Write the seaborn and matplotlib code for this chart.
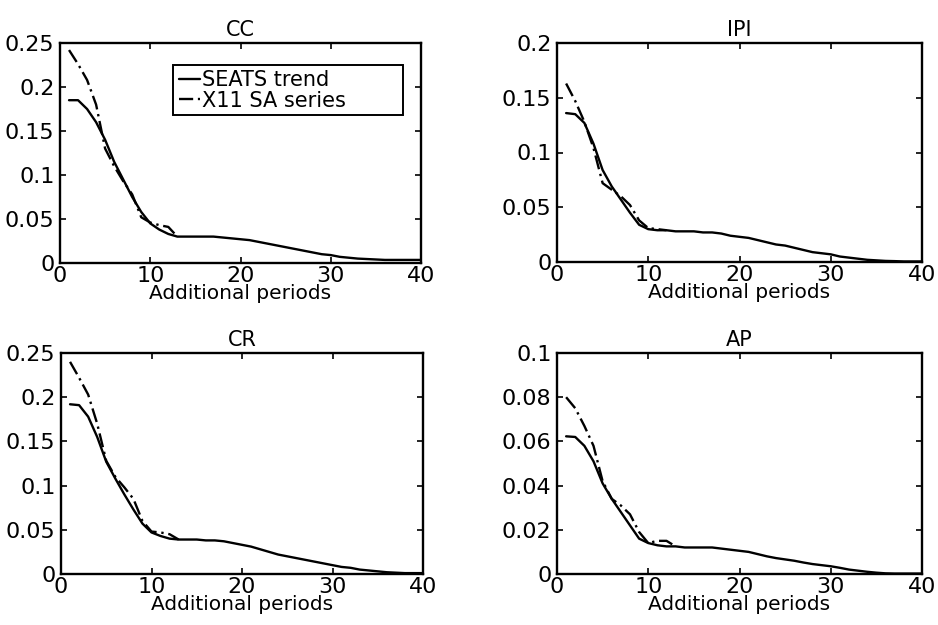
import numpy as np
import pandas as pd
import matplotlib
matplotlib.use("Agg")
import matplotlib.pyplot as plt
from matplotlib.ticker import FuncFormatter
from matplotlib.patches import Rectangle
import seaborn as sns

periods = list(range(1, 41))

cc_seats = [0.185, 0.185, 0.175, 0.160, 0.140, 0.115, 0.095, 0.075, 0.058, 0.045,
            0.038, 0.033, 0.030, 0.030, 0.030, 0.030, 0.030, 0.029, 0.028, 0.027,
            0.026, 0.024, 0.022, 0.020, 0.018, 0.016, 0.014, 0.012, 0.010, 0.009,
            0.007, 0.006, 0.005, 0.0045, 0.004, 0.0035, 0.0035, 0.0035, 0.0035, 0.0035]
cc_x11 = [0.242, 0.226, 0.208, 0.180, 0.130, 0.110, 0.093, 0.078, 0.052, 0.046,
          0.043, 0.041, 0.030]

ipi_seats = [0.136, 0.135, 0.127, 0.108, 0.084, 0.069, 0.057, 0.045, 0.034, 0.030,
             0.029, 0.029, 0.028, 0.028, 0.028, 0.027, 0.027, 0.026, 0.024, 0.023,
             0.022, 0.020, 0.018, 0.016, 0.015, 0.013, 0.011, 0.009, 0.008, 0.007,
             0.005, 0.004, 0.003, 0.002, 0.0015, 0.001, 0.0008, 0.0005, 0.0005, 0.0005]
ipi_x11 = [0.163, 0.147, 0.128, 0.104, 0.072, 0.066, 0.060, 0.052, 0.038, 0.031,
           0.030, 0.029]

cr_seats = [0.192, 0.191, 0.178, 0.155, 0.127, 0.108, 0.090, 0.073, 0.057, 0.047,
            0.043, 0.040, 0.039, 0.039, 0.039, 0.038, 0.038, 0.037, 0.035, 0.033,
            0.031, 0.028, 0.025, 0.022, 0.020, 0.018, 0.016, 0.014, 0.012, 0.010,
            0.008, 0.007, 0.005, 0.004, 0.003, 0.002, 0.0015, 0.001, 0.001, 0.001]
cr_x11 = [0.240, 0.222, 0.203, 0.170, 0.128, 0.110, 0.098, 0.085, 0.060, 0.048,
          0.047, 0.045, 0.039]

ap_seats = [0.0623, 0.062, 0.058, 0.051, 0.041, 0.034, 0.028, 0.022, 0.016, 0.014,
            0.013, 0.0125, 0.0125, 0.012, 0.012, 0.012, 0.012, 0.0115, 0.011, 0.0105,
            0.010, 0.009, 0.008, 0.0072, 0.0066, 0.006, 0.0052, 0.0045, 0.004, 0.0035,
            0.0028, 0.002, 0.0015, 0.001, 0.0006, 0.0003, 0.0002, 0.0002, 0.0002, 0.0002]
ap_x11 = [0.080, 0.075, 0.067, 0.058, 0.042, 0.034, 0.031, 0.027, 0.019, 0.014,
          0.015, 0.015, 0.0125]

titles = ["CC", "IPI", "CR", "AP"]
seats_all = [cc_seats, ipi_seats, cr_seats, ap_seats]
x11_all = [cc_x11, ipi_x11, cr_x11, ap_x11]
ymax_all = [0.25, 0.2, 0.25, 0.1]
ystep_all = [0.05, 0.05, 0.05, 0.02]
xticks = [0, 10, 20, 30, 40]
series_names = ["SEATS trend", "X11 SA series"]
xlabel = "Additional periods"

sns.set_style("ticks")
plt.rcParams['font.family'] = ['DejaVu Sans']
plt.rcParams['text.color'] = 'black'
plt.rcParams['axes.labelcolor'] = 'black'
plt.rcParams['xtick.color'] = 'black'
plt.rcParams['ytick.color'] = 'black'
plt.rcParams['xtick.direction'] = 'in'
plt.rcParams['ytick.direction'] = 'in'

fig = plt.figure(figsize=(9.38, 6.25), dpi=100)
positions = [
    [60/938, (625-263)/625, 361/938, 220/625],
    [557/938, (625-262)/625, 365/938, 219/625],
    [61/938, (625-574)/625, 362/938, 221/625],
    [557/938, (625-574)/625, 365/938, 221/625],
]

fmt = FuncFormatter(lambda v, p: ("%g" % round(v, 4)))

for i in range(4):
    ax = fig.add_axes(positions[i])
    seats = seats_all[i]
    x11 = x11_all[i]
    df = pd.DataFrame({
        "period": periods[:len(seats)] + periods[:len(x11)],
        "value": seats + x11,
        "series": [series_names[0]] * len(seats) + [series_names[1]] * len(x11),
    })
    sns.lineplot(data=df, x="period", y="value", style="series",
                 style_order=series_names,
                 dashes={series_names[0]: "", series_names[1]: (6, 2, 1, 2)},
                 color="black", linewidth=1.7, ax=ax, legend=(i == 0))
    ax.set_xlim(0, 40)
    ax.set_ylim(0, ymax_all[i])
    ax.set_xticks(xticks)
    ax.set_yticks(np.arange(0, ymax_all[i] + 1e-9, ystep_all[i]))
    ax.yaxis.set_major_formatter(fmt)
    ax.tick_params(axis='both', which='both', top=True, right=True,
                   direction='in', length=4, width=1.2, labelsize=16,
                   colors='black')
    ax.tick_params(axis='y', pad=4)
    ax.tick_params(axis='x', pad=2)
    for s in ax.spines.values():
        s.set_linewidth(1.7)
        s.set_color('black')
        s.set_visible(True)
    ax.set_title(titles[i], fontsize=15, pad=5)
    ax.set_xlabel(xlabel, fontsize=14.5, labelpad=-1)
    ax.set_ylabel("")
    if i == 0:
        ax.add_patch(Rectangle((0.313, 0.673), 0.637, 0.227,
                               transform=ax.transAxes, facecolor='white',
                               edgecolor='black', linewidth=1.4, zorder=4))
        leg = ax.legend(loc="upper left", bbox_to_anchor=(0.313, 0.905),
                        prop={'size': 15}, frameon=False,
                        handlelength=1.0, handletextpad=0.1, borderpad=0.3,
                        labelspacing=0.02, borderaxespad=0)
        leg.set_zorder(5)

fig.savefig("out.png", dpi=100)
